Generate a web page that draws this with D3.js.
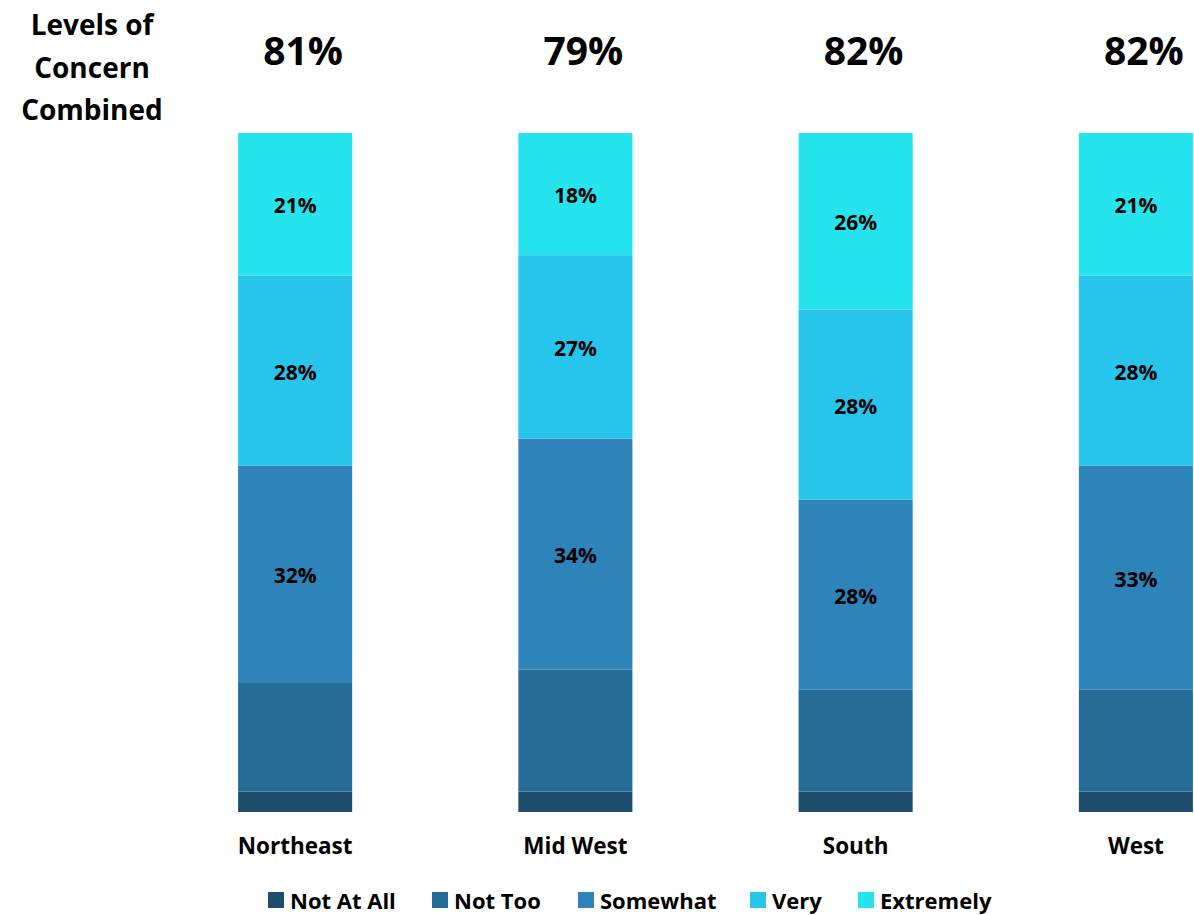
<!DOCTYPE html>
<html><head><meta charset="utf-8">
<script src="https://cdn.jsdelivr.net/npm/d3@7"></script>
<style>body{margin:0;background:#fff;} text{font-family:"Open Sans",Lato,sans-serif;font-weight:bold;fill:#000;}</style>
</head><body>
<svg id="c" width="1194" height="915"></svg>
<script>
const categories = ["Northeast","Mid West","South","West"];
const seriesNames = ["Not At All","Not Too","Somewhat","Very","Extremely"];
const notAtAll = [3,3,3,3];
const notToo = [16,18,15,15];
const somewhat = [32,34,28,33];
const very = [28,27,28,28];
const extremely = [21,18,26,21];
const combinedLabels = ["81%","79%","82%","82%"];
const colors = ["#1f4e6c","#276c96","#2e83b8","#27c5ec","#26e4ee"];
const labeled = [false,false,true,true,true];

const svg = d3.select("#c");
const rows = categories.map((c,i)=>({cat:c,"Not At All":notAtAll[i],"Not Too":notToo[i],"Somewhat":somewhat[i],"Very":very[i],"Extremely":extremely[i]}));
const stack = d3.stack().keys(seriesNames)(rows);

const x = d3.scaleBand().domain(categories).range([155,1276]).paddingInner(0.593).paddingOuter(0.2965);
const y = d3.scaleLinear().domain([0,100]).range([812,133]);

stack.forEach((layer,li)=>{
  const g = svg.append("g");
  g.selectAll("rect").data(layer).join("rect")
    .attr("x",d=>x(d.data.cat)).attr("width",x.bandwidth())
    .attr("y",d=>y(d[1])).attr("height",d=>y(d[0])-y(d[1]))
    .attr("fill",colors[li]);
  if(labeled[li]){
    g.selectAll("text").data(layer).join("text")
      .attr("x",d=>x(d.data.cat)+x.bandwidth()/2)
      .attr("y",d=>(y(d[0])+y(d[1]))/2+1)
      .attr("text-anchor","middle").attr("dominant-baseline","central")
      .style("font-size","21px")
      .text(d=>(d[1]-d[0])+"%");
  }
});

// category axis labels
const xAxis = svg.append("g").attr("transform","translate(0,812)").call(d3.axisBottom(x).tickSize(0).tickPadding(28));
xAxis.select(".domain").remove();
xAxis.selectAll("text").style("font-size","22.5px").style("font-family","'Open Sans'").style("font-weight","bold").attr("fill","#000").attr("dy","0.6em");

// combined labels
svg.append("g").selectAll("text").data(categories).join("text")
  .attr("x",d=>x(d)+x.bandwidth()/2+8).attr("y",49)
  .attr("text-anchor","middle").attr("dominant-baseline","central")
  .style("font-size","39px").text((d,i)=>combinedLabels[i]);

// title
const t = svg.append("text").attr("text-anchor","middle").style("font-size","28px");
["Levels of","Concern","Combined"].forEach((s,i)=>{
  t.append("tspan").attr("x",92).attr("y",24+i*42.5).attr("dominant-baseline","central").text(s);
});

// legend
const legX = [268,432,578,750,858];
const lg = svg.append("g");
seriesNames.forEach((s,i)=>{
  lg.append("rect").attr("x",legX[i]).attr("y",892).attr("width",16).attr("height",16).attr("fill",colors[i]);
  lg.append("text").attr("x",legX[i]+22).attr("y",900).attr("dominant-baseline","central").style("font-size","22px").text(s);
});
</script>
</body></html>
